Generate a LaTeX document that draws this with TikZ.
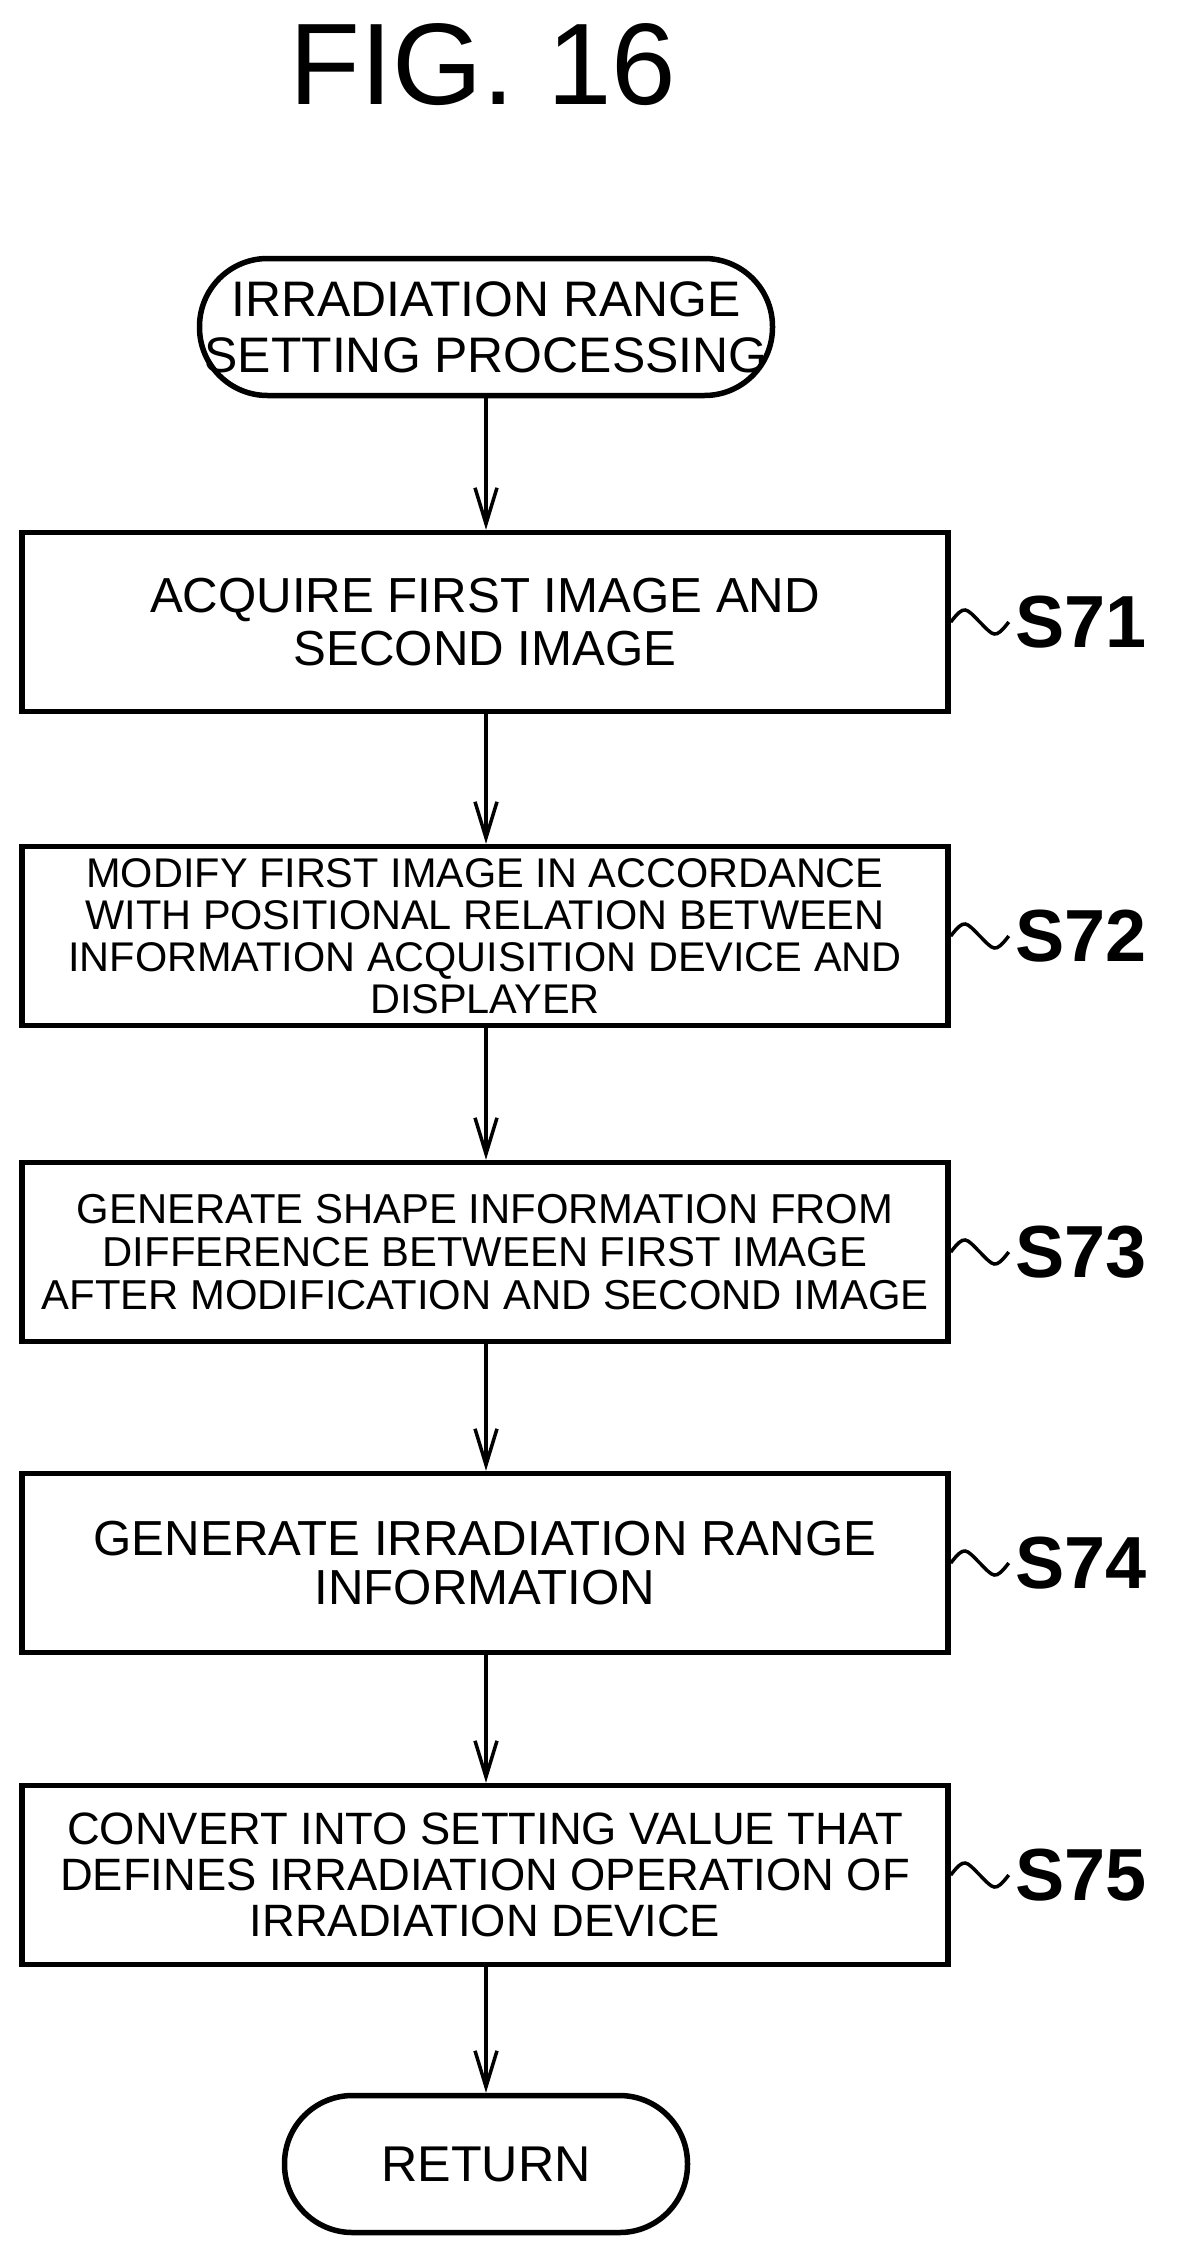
\documentclass[tikz,border=0pt]{standalone}
\usepackage{fontspec}
\setmainfont{Liberation Sans}
\usetikzlibrary{arrows.meta}
\begin{document}
\begin{tikzpicture}[x=0.1mm,y=-0.1mm,
  box/.style={draw,line width=0.55mm,minimum width=92.6mm,minimum height=17.9mm,align=center,inner sep=0pt},
  term/.style={draw,line width=0.55mm,rounded corners=6.8mm,align=center,inner sep=0pt},
  arr/.style={line width=0.35mm,-{Straight Barb[length=3.6mm,width=2.2mm,line width=0.35mm]}},
  lab/.style={font=\fontsize{21}{21}\selectfont\bfseries,anchor=west,inner sep=0pt},
  sq/.style={line width=0.35mm}]
\useasboundingbox (0,0) rectangle (1190,2267);
\node (title) at (483,65) {\fontsize{33}{33}\selectfont FIG. 16};
\node[term,minimum width=57.3mm,minimum height=13.7mm,font=\fontsize{14.2}{16}\selectfont] (start) at (486,327) {IRRADIATION RANGE\\SETTING PROCESSING};
\node[box,font=\fontsize{14}{15.2}\selectfont] (s71) at (485,622) {ACQUIRE FIRST IMAGE AND\\SECOND IMAGE};
\node[box,font=\fontsize{11.8}{12}\selectfont] (s72) at (485,936) {MODIFY FIRST IMAGE IN ACCORDANCE\\WITH POSITIONAL RELATION BETWEEN\\INFORMATION ACQUISITION DEVICE AND\\DISPLAYER};
\node[box,font=\fontsize{11.9}{12.2}\selectfont] (s73) at (485,1252) {GENERATE SHAPE INFORMATION FROM\\DIFFERENCE BETWEEN FIRST IMAGE\\AFTER MODIFICATION AND SECOND IMAGE};
\node[box,font=\fontsize{14}{13.8}\selectfont] (s74) at (485,1563) {GENERATE IRRADIATION RANGE\\INFORMATION};
\node[box,font=\fontsize{12.9}{13}\selectfont] (s75) at (485,1875) {CONVERT INTO SETTING VALUE THAT\\DEFINES IRRADIATION OPERATION OF\\IRRADIATION DEVICE};
\node[term,minimum width=40.3mm,minimum height=13.7mm,font=\fontsize{14.3}{16}\selectfont] (ret) at (486,2164) {RETURN};
\foreach \a/\b in {start/s71,s71/s72,s72/s73,s73/s74,s74/s75,s75/ret}
  \draw[arr] (\a.south -| start.south) -- (\b.north -| start.south);
\foreach \s/\t in {s71/S71,s72/S72,s73/S73,s74/S74,s75/S75}{
  \coordinate (\s a) at (\s.east);
  \draw[sq] (\s a) .. controls +(14,-18) and +(-14,-14) .. +(29,0) .. controls +(14,14) and +(-14,18) .. +(58,0) coordinate (\s b);
  \node[lab] (\s l) at ([xshift=0.6mm]\s b) {\t};
}
\end{tikzpicture}
\end{document}
